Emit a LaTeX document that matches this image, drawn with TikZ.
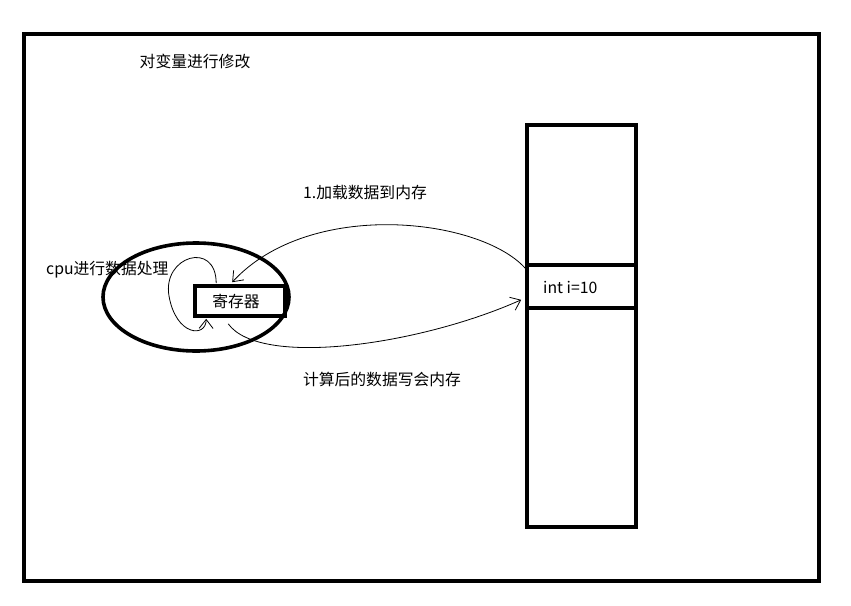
\documentclass[tikz,border=0pt]{standalone}
\usepackage{fontspec}
\setmainfont{Noto Sans CJK SC}
\usetikzlibrary{arrows.meta}
\tikzset{
  heavy/.style={line width=3.6pt},
  flow/.style={line width=0.8pt, -{Straight Barb[length=9pt,width=14pt]}},
  lbl/.style={font=\fontsize{15.8}{18}\selectfont, inner sep=0pt}
}
\begin{document}
\begin{tikzpicture}[x=1pt,y=-1pt]
  \useasboundingbox (0,0) rectangle (851,605);
  % Outer frame
  \draw[heavy] (24,34) rectangle (819,581);
  \node[lbl] (title) at (195,61) {对变量进行修改};
  % Memory column with the cell holding the variable
  \draw[heavy] (527,125) rectangle (636,527);
  \node[heavy, draw, minimum width=109pt, minimum height=43pt, inner sep=0pt] (cell) at (581.5,286.5) {};
  \node[lbl, anchor=west] (var) at (543,287) {int i=10};
  % CPU with its register
  \draw[heavy] (196,297) ellipse (93pt and 54pt);
  \node[lbl, anchor=west] (cpu) at (46,270) {cpu进行数据处理};
  \node[heavy, draw, minimum width=90pt, minimum height=30pt, inner sep=0pt] (reg) at (240,301) {};
  \node[lbl] (regtext) at (236,301) {寄存器};
  % Load, process, write back
  \draw[flow] ([yshift=-5]cell.north west) .. controls (480,218) and (310,198) .. ([xshift=39,yshift=2]reg.north west);
  \node[lbl] (load) at (365,193) {1.加载数据到内存};
  \draw[flow] ([xshift=23,yshift=1]reg.north west) .. controls (216,240) and (162,256) .. (169,296) .. controls (176,336) and (206,338) .. ([xshift=13,yshift=-1]reg.south west);
  \draw[flow] ([xshift=35,yshift=-6]reg.south west) .. controls (260,368) and (420,345) .. ([xshift=-4,yshift=10]cell.south west);
  \node[lbl] (store) at (382,379) {计算后的数据写会内存};
\end{tikzpicture}
\end{document}
